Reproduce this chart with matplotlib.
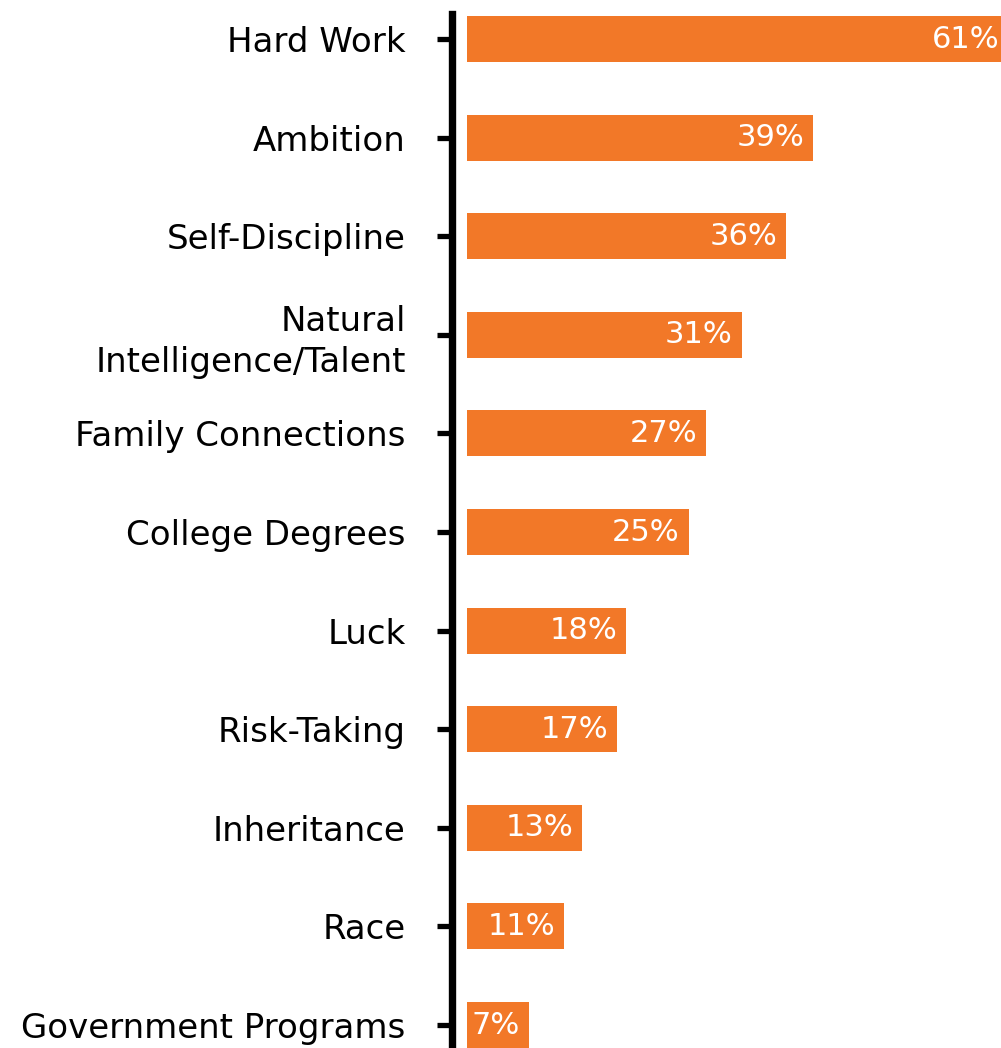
import matplotlib.pyplot as plt

# Survey results: factors seen as important for getting ahead
factors = ["Hard Work", "Ambition", "Self-Discipline", "Natural\nIntelligence/Talent",
           "Family Connections", "College Degrees", "Luck", "Risk-Taking",
           "Inheritance", "Race", "Government Programs"]
percent = [61, 39, 36, 31, 27, 25, 18, 17, 13, 11, 7]

bar_color = "#F27828"
plt.rcParams["font.family"] = ["DejaVu Sans"]

fig = plt.figure(figsize=(10.01, 10.48), dpi=100)
ax = fig.add_axes([451.5 / 1001, 0, (1001 - 451.5) / 1001, (1048 - 14) / 1048])

pos = list(range(len(factors)))
ax.barh(pos, percent, height=0.466, color=bar_color)

for y, v in zip(pos, percent):
    ax.annotate(f"{v}%", xy=(v, y), xytext=(-9, 0), textcoords="offset pixels",
                ha="right", va="center", color="white", fontsize=22,
                annotation_clip=False)

ax.set_yticks(pos)
ax.set_yticklabels(factors, fontsize=24.5)
for lbl in ax.get_yticklabels():
    lbl.set_multialignment("right")
    lbl.set_linespacing(1.3)
ax.set_ylim(10.233, -0.254)
ax.set_xlim(-1.69, 60.18)

ax.tick_params(axis="y", length=11, width=3.8, pad=22, color="black")
ax.tick_params(axis="x", bottom=False, labelbottom=False)
for side in ["top", "right", "bottom"]:
    ax.spines[side].set_visible(False)
ax.spines["left"].set_linewidth(5.3)
ax.spines["left"].set_color("black")

fig.savefig("out.png", dpi=100)
